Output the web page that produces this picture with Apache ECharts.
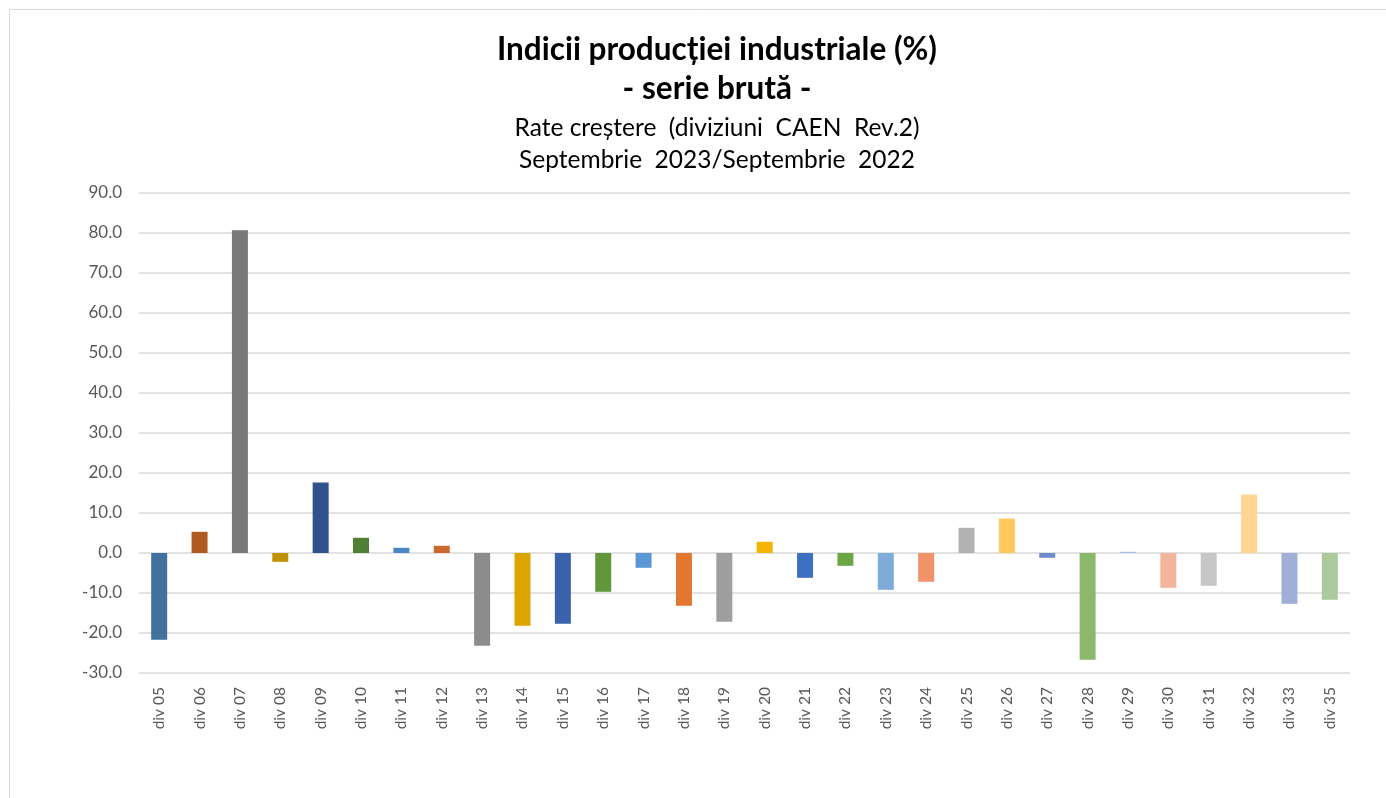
<!DOCTYPE html>
<html>
<head>
<meta charset="utf-8">
<script src="https://cdn.jsdelivr.net/npm/echarts@6/dist/echarts.min.js"></script>
<style>
  html, body { margin: 0; padding: 0; background: #fff; }
  #chart { width: 1386px; height: 798px; }
</style>
</head>
<body>
<div id="chart"></div>
<script>
const categories = ['div 05', 'div 06', 'div 07', 'div 08', 'div 09', 'div 10', 'div 11', 'div 12', 'div 13', 'div 14',
  'div 15', 'div 16', 'div 17', 'div 18', 'div 19', 'div 20', 'div 21', 'div 22', 'div 23', 'div 24',
  'div 25', 'div 26', 'div 27', 'div 28', 'div 29', 'div 30', 'div 31', 'div 32', 'div 33', 'div 35'];
const values = [-21.7, 5.3, 80.7, -2.2, 17.6, 3.8, 1.3, 1.8, -23.2, -18.2,
  -17.7, -9.7, -3.7, -13.2, -17.2, 2.8, -6.2, -3.2, -9.2, -7.2,
  6.3, 8.6, -1.2, -26.7, 0.3, -8.7, -8.2, 14.6, -12.7, -11.7];
// culori pe fiecare bara (stil Excel "vary colors by point")
const barColors = ['#41719C', '#AE5A21', '#787878', '#BF9000', '#2F528F', '#507E32', '#4A86C3', '#CC6A2B', '#8C8C8C', '#DDA400',
  '#3A62AC', '#62963B', '#5B97D2', '#E2782E', '#9E9E9E', '#F4B400', '#3F6FC0', '#6BA644', '#7EABDA', '#F19368',
  '#B2B2B2', '#FFC85A', '#6F8ACD', '#8BB96C', '#A5C3E4', '#F3B49C', '#C6C6C6', '#FFD591', '#A1AFD8', '#ADCA9E'];
const yMin = -30, yMax = 90, yStep = 10;

const myChart = echarts.init(document.getElementById('chart'));
const font = 'Lato, "Liberation Sans", sans-serif';

const titleLine = (text, y, size, bold) => ({
  type: 'text', x: 717, y: y, silent: true,
  style: {
    text: text, fontSize: size, fontWeight: bold ? 'bold' : 'normal',
    fontFamily: font, fill: '#000', align: 'center', verticalAlign: 'middle'
  }
});

const option = {
  animation: false,
  textStyle: { fontFamily: font },
  graphic: [
    { type: 'rect', shape: { x: 9.5, y: 9.5, width: 1390, height: 800 },
      style: { fill: 'none', stroke: '#D9D9D9', lineWidth: 1 }, silent: true },
    titleLine('Indicii producției industriale (%)', 50, 31.5, true),
    titleLine('- serie brută -', 89, 31.5, true),
    titleLine('Rate creștere  (diviziuni  CAEN  Rev.2)', 128, 24.5, false),
    titleLine('Septembrie  2023/Septembrie  2022', 160, 24.5, false)
  ],
  grid: { left: 139, right: 36, top: 193, bottom: 125, containLabel: false },
  xAxis: {
    type: 'category',
    data: categories,
    axisLine: { show: false },
    axisTick: { show: false },
    position: 'bottom',
    axisLabel: {
      rotate: 90, interval: 0, color: '#595959', fontSize: 15.5, margin: 14, fontFamily: font
    }
  },
  yAxis: {
    type: 'value',
    min: yMin, max: yMax, interval: yStep,
    axisLine: { show: false },
    axisTick: { show: false },
    axisLabel: {
      color: '#595959', fontSize: 17, margin: 17, fontFamily: font,
      formatter: v => v.toFixed(1)
    },
    splitLine: { lineStyle: { color: '#D9D9D9', width: 1.5 } }
  },
  series: [{
    type: 'bar',
    barWidth: 16,
    data: values.map((v, i) => ({ value: v, itemStyle: { color: barColors[i] } }))
  }]
};
myChart.setOption(option);
window.onresize = function() {
  myChart.resize();
};
</script>
</body>
</html>
